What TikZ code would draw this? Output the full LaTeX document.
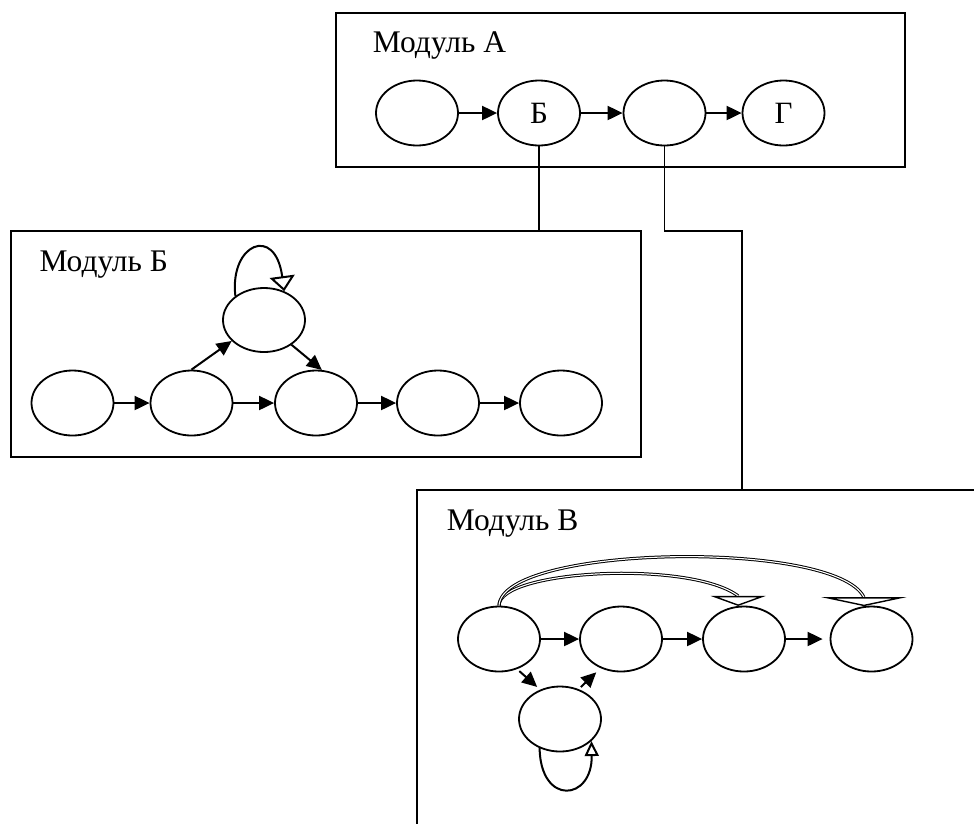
\documentclass[tikz,border=0pt]{standalone}
\usepackage{fontspec}
\setmainfont{Liberation Serif}
\usetikzlibrary{arrows.meta,shapes.geometric,calc}
\begin{document}
\begin{tikzpicture}[x=1pt,y=-1pt,
  state/.style={draw, ellipse, line width=1.8pt, minimum width=82pt, minimum height=65pt,
    inner sep=0pt, font=\fontsize{31}{36}\selectfont},
  module/.style={draw, rectangle, line width=2pt, inner sep=0pt},
  title/.style={anchor=base west, inner sep=0pt, font=\fontsize{31.5}{36}\selectfont},
  flow/.style={line width=2pt, -{Triangle[length=15pt,width=14pt]}},
  link/.style={line width=1.7pt},
  selfloop/.style={line width=2pt},
  jump/.style={line width=1pt, double, double distance=1.1pt},
  jumphead/.style={line width=1.4pt},
]
\useasboundingbox (0,0) rectangle (974,823);
\clip (0,0) rectangle (974,823);

% module frames
\node[module, minimum width=569pt, minimum height=154pt] (ma) at (620.4,89.5) {};
\node[module, minimum width=630pt, minimum height=226pt] (mb) at (325.9,343.9) {};
\node[module, minimum width=583pt, minimum height=360pt] (mv) at (708.4,670) {};

\node[title] (ta) at (372.7,52.3) {Модуль А};
\node[title] (tb) at (39.3,271.7) {Модуль Б};
\node[title] (tv) at (446.7,530.7) {Модуль В};

% module A
\node[state] (a1) at (417,113) {};
\node[state] (a2) at (539,113) {Б};
\node[state] (a3) at (664.5,113) {};
\node[state] (a4) at (783.5,113) {Г};
\draw[flow] (a1) -- (a2);
\draw[flow] (a2) -- (a3);
\draw[flow] (a3) -- (a4);

% links from A to the sub-modules
\coordinate (bend) at (742,231);
\draw[link] (a2.south) -- (a2.south |- mb.north);
\draw[link] (a3.south) |- (bend) -- (bend |- mv.north);

% module B
\node[state] (b1) at (72.5,403) {};
\node[state] (b2) at (191.5,403) {};
\node[state] (b3) at (316,403) {};
\node[state] (b4) at (438,403) {};
\node[state] (b5) at (561,403) {};
\node[state, minimum height=64pt] (bt) at (264,320) {};
\draw[flow] (b1) -- (b2);
\draw[flow] (b2) -- (b3);
\draw[flow] (b3) -- (b4);
\draw[flow] (b4) -- (b5);
\draw[flow] (b2.north) -- (bt.213);
\draw[flow] (bt.-42) -- (b3.80);
\draw[selfloop, -{Triangle[open,length=15pt,width=25pt]}]
  (bt.140) .. controls +(-6,-52) and +(-9,-67) .. (bt.55);

% module V
\node[state] (v1) at (499,639) {};
\node[state] (v2) at (621,639) {};
\node[state] (v3) at (744,639) {};
\node[state] (v4) at (871.5,639) {};
\node[state] (v5) at (560,719) {};
\draw[flow] (v1) -- (v2);
\draw[flow] (v2) -- (v3);
\draw[flow, shorten >=7pt] (v3) -- (v4);
\draw[flow, shorten <=3pt, shorten >=4pt] (v1.-59) -- (v5.124);
\draw[flow, shorten <=3pt, shorten >=6pt] (v5.58) -- (v2.235);
\draw[selfloop, -{Triangle[open,length=15pt,width=14pt]}]
  (v5.235) .. controls +(1,58) and +(1,60) .. (v5.-35);

% long jumps over the chain
\coordinate (h3) at ($(v3.100)+(0,-10)$);
\coordinate (h4) at ($(v4.103)+(0,-9)$);
\draw[jump] (v1.north) .. controls +(0,-36) and +(-48,-36) .. (h3);
\draw[jump] (v1.north) .. controls +(3,-61) and +(-29,-58) .. (h4);
\draw[jumphead, -{Triangle[open,length=10pt,width=55pt]}] (h3) -- (v3.100);
\draw[jumphead, -{Triangle[open,length=9pt,width=85pt]}] (h4) -- (v4.103);
\end{tikzpicture}
\end{document}
